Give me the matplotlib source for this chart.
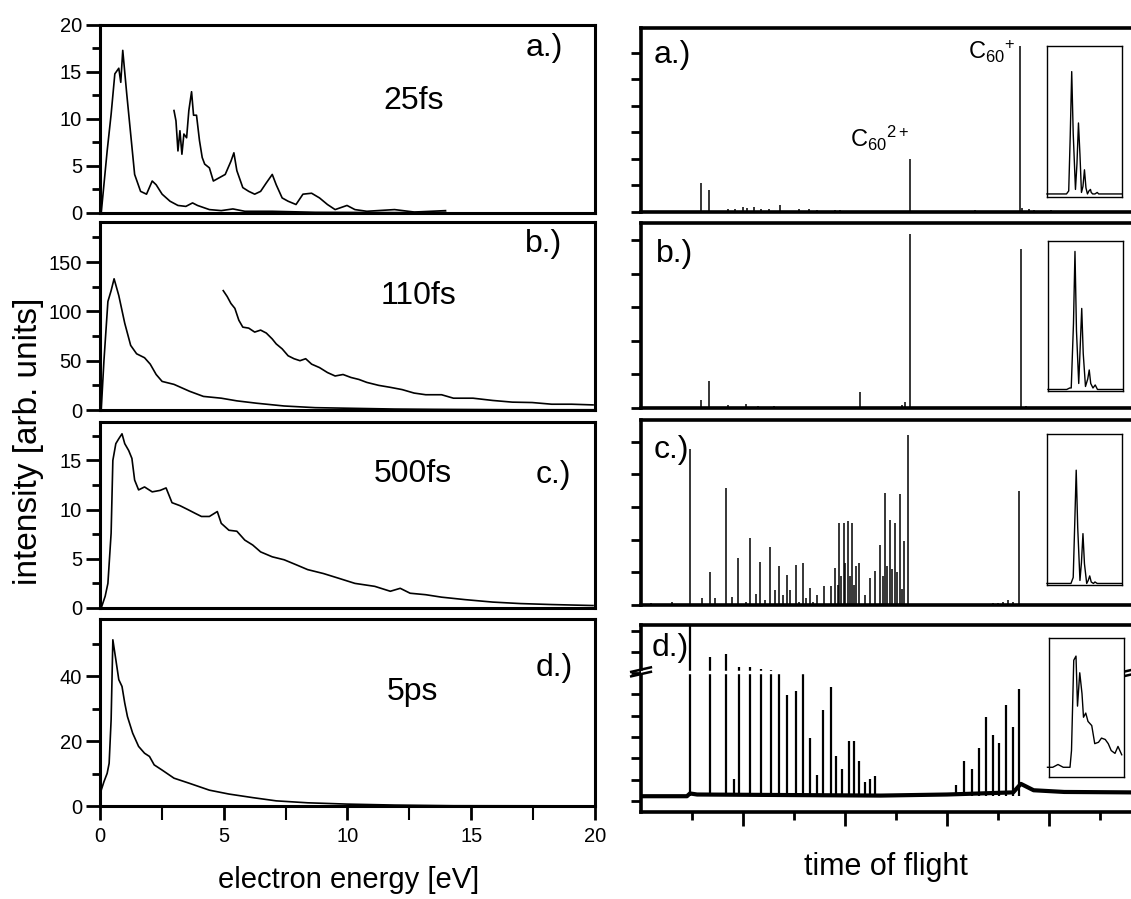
import matplotlib
matplotlib.use("Agg")
import matplotlib.pyplot as plt

plt.rcParams['font.family'] = ['Liberation Sans', 'DejaVu Sans']
plt.rcParams['mathtext.fontset'] = 'custom'
plt.rcParams['mathtext.rm'] = 'Liberation Sans'
plt.rcParams['mathtext.it'] = 'Liberation Sans:italic'

# ---------------- electron spectra (left column) ----------------
a_e = [0.05, 0.29, 0.45, 0.60, 0.76, 0.84, 0.92, 1.08, 1.24, 1.40, 1.64, 1.88, 2.11, 2.27,
       2.51, 2.83, 3.15, 3.47, 3.74, 3.94, 4.42, 4.90, 5.37, 5.85, 6.96, 8.70, 11.9, 13.96]
a_y = [0.0, 6.6, 10.5, 14.8, 15.4, 13.9, 17.3, 12.7, 8.4, 4.1, 2.3, 2.0, 3.4, 3.0,
       2.0, 1.25, 0.8, 0.7, 1.07, 0.8, 0.36, 0.25, 0.43, 0.18, 0.18, 0.07, 0.04, 0.07]
az_e = [2.99, 3.07, 3.15, 3.23, 3.31, 3.39, 3.50, 3.59, 3.70, 3.78, 3.90, 4.02, 4.13, 4.23,
        4.42, 4.58, 4.82, 5.06, 5.29, 5.41, 5.53, 5.77, 6.01, 6.25, 6.49, 6.72, 6.96, 7.12,
        7.36, 7.60, 7.92, 8.20, 8.55, 8.87, 9.19, 9.50, 9.98, 10.3, 10.78, 11.9, 12.7, 13.96]
az_y = [10.9, 9.8, 6.6, 8.75, 6.25, 8.4, 8.0, 10.9, 12.9, 10.4, 10.4, 7.7, 5.9, 5.2,
        4.8, 3.4, 3.75, 4.1, 5.5, 6.4, 4.5, 2.7, 2.3, 2.0, 2.3, 3.2, 4.1, 3.0,
        1.6, 1.25, 0.9, 2.0, 2.1, 1.6, 0.9, 0.36, 0.8, 0.36, 0.18, 0.36, 0.1, 0.25]

b_e = [0.05, 0.16, 0.32, 0.45, 0.57, 0.76, 1.0, 1.24, 1.48, 1.8, 2.03, 2.27, 2.51, 2.99,
       3.62, 4.18, 4.9, 5.53, 6.33, 7.44, 8.7, 10.3, 11.9, 13.5, 16.7, 20.0]
b_y = [0, 50, 110, 121, 133, 116, 88, 65.5, 57, 53, 46.5, 36, 29, 26,
       19, 13.8, 12, 9.3, 6.9, 4.1, 2.4, 1.7, 1.0, 0.7, 0.3, 0.3]
bz_e = [4.98, 5.14, 5.29, 5.45, 5.61, 5.77, 6.01, 6.25, 6.49, 6.72, 6.96, 7.12, 7.36, 7.60,
        7.84, 8.08, 8.31, 8.55, 8.87, 9.19, 9.50, 9.82, 10.14, 10.46, 10.78, 11.26, 11.73,
        12.21, 12.69, 13.16, 13.8, 14.28, 15.07, 15.87, 16.66, 17.46, 18.25, 19.05, 19.92]
bz_y = [121, 115, 108, 103, 91, 84, 83, 79, 81, 78, 72, 67, 62, 55,
        52, 50, 52, 46.5, 43, 38, 34.5, 36, 33, 31, 28, 25, 23,
        20.7, 17.2, 15.5, 15.5, 12, 12, 9.7, 8, 7.6, 5.9, 5.9, 5.2]

c_e = [0.05, 0.21, 0.32, 0.45, 0.52, 0.64, 0.76, 0.89, 1.0, 1.16, 1.29, 1.40, 1.56, 1.8,
       2.11, 2.43, 2.67, 2.91, 3.23, 3.55, 3.86, 4.1, 4.42, 4.74, 4.9, 5.21, 5.53, 5.85,
       6.17, 6.49, 6.96, 7.44, 7.92, 8.39, 9.03, 9.67, 10.3, 11.1, 11.73, 12.13, 12.53,
       13.16, 13.8, 14.75, 15.87, 16.98, 18.25, 19.92]
c_y = [0, 1.2, 2.5, 7.6, 15.0, 16.7, 17.2, 17.7, 16.7, 16.0, 15.2, 13.0, 12.0, 12.3,
       11.8, 11.95, 12.2, 10.7, 10.4, 10.0, 9.6, 9.3, 9.3, 9.8, 8.6, 7.9, 7.8, 6.9,
       6.4, 5.7, 5.2, 4.9, 4.4, 3.9, 3.5, 3.0, 2.5, 2.2, 1.7, 2.0, 1.5,
       1.35, 1.1, 0.85, 0.6, 0.45, 0.35, 0.25]

d_e = [0.0, 0.05, 0.16, 0.29, 0.37, 0.45, 0.52, 0.64, 0.76, 0.89, 1.0, 1.11, 1.32, 1.56,
       1.8, 2.0, 2.19, 2.51, 2.99, 3.62, 4.42, 5.21, 6.17, 7.12, 8.39, 9.98, 11.9, 14.28, 20.0]
d_y = [0, 4.9, 7.5, 10.1, 13.2, 26.6, 51.3, 45.2, 39, 36.9, 31.8, 27.6, 22.5, 18.4,
       16.3, 15.3, 12.7, 11.1, 8.6, 7.0, 4.9, 3.7, 2.6, 1.6, 1.0, 0.6, 0.3, 0.1, 0.05]

pulse_labels = ["25fs", "110fs", "500fs", "5ps"]
panel_tags = ["a.)", "b.)", "c.)", "d.)"]

# ---------------- time of flight (right column) ----------------
ta_pos = [7.43, 5.28, 1.18, 1.34, 1.70, 1.85, 2.00, 2.08, 2.22, 2.35, 2.50, 2.72, 3.10, 3.30,
          3.45, 3.80, 3.90, 6.55, 7.48, 7.60, 7.70, 8.05]
ta_h = [6.26, 2.00, 1.10, 0.83, 0.12, 0.10, 0.20, 0.15, 0.18, 0.10, 0.12, 0.25, 0.10, 0.12,
        0.08, 0.08, 0.08, 0.08, 0.15, 0.10, 0.08, 0.06]

tb_pos = [5.28, 7.45, 1.34, 1.18, 4.30, 5.18, 5.12, 1.70, 2.05, 2.30, 2.60, 3.10, 7.55]
tb_h = [5.18, 4.74, 0.80, 0.24, 0.47, 0.18, 0.10, 0.10, 0.13, 0.05, 0.05, 0.04, 0.05]

tc_pos = [0.96, 1.36, 1.66, 1.91, 2.14, 2.34, 2.52, 2.63, 2.71, 2.86, 2.93, 3.03, 3.17, 3.31,
          3.45, 3.58, 3.72, 3.81, 3.89, 3.98, 4.05, 4.13, 4.21, 4.28, 4.40, 4.49, 4.59, 4.69,
          4.78, 4.88, 4.98, 5.07, 5.15, 5.23, 7.41]
tc_h = [4.77, 1.00, 3.58, 1.43, 2.05, 1.32, 1.77, 0.46, 1.19, 0.92, 0.46, 1.22, 1.28, 0.52,
        0.30, 0.58, 0.58, 1.13, 2.50, 2.50, 2.57, 2.50, 1.20, 1.28, 0.30, 0.83, 1.04, 1.83,
        3.42, 2.60, 2.50, 3.39, 1.96, 5.20, 3.49]
tc_small_pos = [0.20, 0.60, 1.20, 1.46, 1.78, 2.05, 2.25, 2.43, 2.78, 3.10, 3.24, 3.38, 3.86,
                3.93, 4.01, 4.09, 4.17, 4.74, 4.83, 4.93, 5.02, 5.11, 6.90, 7.00, 7.10, 7.20, 7.30]
tc_small_h = [0.05, 0.08, 0.20, 0.20, 0.25, 0.10, 0.35, 0.15, 0.30, 0.10, 0.20, 0.10, 0.60,
              0.90, 1.30, 0.90, 0.60, 0.90, 1.20, 1.10, 1.00, 0.50, 0.05, 0.07, 0.10, 0.15, 0.10]

td_pos = [0.96, 1.35, 1.67, 1.82, 1.92, 2.14, 2.35, 2.54, 2.71, 2.87, 3.03, 3.18, 3.31, 3.45,
          3.57, 3.72, 3.83, 3.95, 4.07, 4.17, 4.28, 4.39, 4.49, 4.58, 6.18, 6.34, 6.49, 6.62,
          6.76, 6.90, 7.03, 7.16, 7.29, 7.41]
td_h = [8.30, 6.77, 6.89, 1.02, 6.27, 6.27, 6.18, 6.15, 5.99, 4.98, 5.18, 5.99, 2.97, 1.22,
        4.27, 5.34, 2.13, 1.50, 2.79, 2.79, 1.89, 0.91, 1.02, 1.17, 0.75, 1.89, 1.50, 2.47,
        3.93, 3.08, 2.74, 4.51, 3.49, 5.24]
td_base_x = [0.0, 0.9, 0.96, 1.1, 4.7, 6.0, 7.3, 7.45, 7.7, 8.3, 9.6]
td_base_y = [0.22, 0.22, 0.35, 0.30, 0.25, 0.30, 0.40, 0.80, 0.50, 0.42, 0.40]
td_break = 6.06

# insets: C60+ isotope pattern, normalised to the inset box
ins_a_x = [0.00, 0.26, 0.29, 0.31, 0.33, 0.35, 0.38, 0.40, 0.42, 0.44, 0.46, 0.48, 0.50, 0.52,
           0.54, 0.56, 0.58, 0.59, 0.61, 0.64, 0.67, 0.69, 0.72, 1.00]
ins_a_y = [0.02, 0.02, 0.04, 0.40, 0.83, 0.42, 0.05, 0.22, 0.49, 0.28, 0.03, 0.07, 0.18, 0.06,
           0.02, 0.04, 0.05, 0.03, 0.02, 0.02, 0.03, 0.02, 0.02, 0.02]
ins_b_x = [0.00, 0.25, 0.29, 0.31, 0.34, 0.36, 0.38, 0.41, 0.43, 0.45, 0.47, 0.50, 0.53, 0.55,
           0.57, 0.60, 0.63, 0.66, 0.70, 1.00]
ins_b_y = [0.01, 0.01, 0.02, 0.02, 0.45, 0.93, 0.40, 0.05, 0.30, 0.55, 0.25, 0.03, 0.08, 0.14,
           0.05, 0.02, 0.04, 0.01, 0.01, 0.01]
ins_c_x = [0.00, 0.32, 0.35, 0.37, 0.39, 0.41, 0.44, 0.46, 0.48, 0.50, 0.53, 0.55, 0.57, 0.59,
           0.62, 0.64, 0.67, 1.00]
ins_c_y = [0.01, 0.01, 0.05, 0.40, 0.76, 0.38, 0.03, 0.15, 0.34, 0.14, 0.01, 0.03, 0.06, 0.02,
           0.01, 0.02, 0.01, 0.01]
ins_d_x = [-0.02, 0.05, 0.12, 0.19, 0.28, 0.30, 0.33, 0.36, 0.38, 0.41, 0.44, 0.46, 0.49, 0.52,
           0.57, 0.61, 0.66, 0.70, 0.75, 0.79, 0.83, 0.88, 0.92, 0.97]
ins_d_y = [0.07, 0.07, 0.09, 0.07, 0.07, 0.19, 0.84, 0.87, 0.51, 0.75, 0.60, 0.43, 0.46, 0.40,
           0.37, 0.24, 0.25, 0.28, 0.27, 0.24, 0.19, 0.17, 0.22, 0.16]

# ---------------------------------------------------------------
fig = plt.figure(figsize=(11.31, 8.99), dpi=100)

left_rects = [[0.0884, 0.7631, 0.4377, 0.2091],
              [0.0884, 0.5439, 0.4377, 0.2091],
              [0.0884, 0.3237, 0.4377, 0.2069],
              [0.0884, 0.1034, 0.4377, 0.2080]]
left_ylims = [20, 190.5, 18.9, 57.7]
left_major = [[0, 5, 10, 15, 20], [0, 50, 100, 150], [0, 5, 10, 15], [0, 20, 40]]
left_minor = [[2.5, 7.5, 12.5, 17.5], [25, 75, 125, 175], [2.5, 7.5, 12.5, 17.5], [10, 30, 50]]
left_curves = [[(a_e, a_y), (az_e, az_y)], [(b_e, b_y), (bz_e, bz_y)],
               [(c_e, c_y)], [(d_e, d_y)]]
tag_pos = [(0.897, 0.879), (0.897, 0.882), (0.915, 0.717), (0.917, 0.74)]
lbl_pos = [(0.634, 0.595), (0.644, 0.604), (0.632, 0.723), (0.632, 0.61)]

for i in range(4):
    ax = fig.add_axes(left_rects[i])
    for xs, ys in left_curves[i]:
        ax.plot(xs, ys, color='black', lw=1.2)
    ax.set_xlim(0, 20)
    ax.set_ylim(0, left_ylims[i])
    ax.set_yticks(left_major[i])
    ax.set_yticks(left_minor[i], minor=True)
    ax.tick_params(axis='y', which='major', direction='out', length=10, width=2, labelsize=14.5, pad=3)
    ax.tick_params(axis='y', which='minor', direction='out', length=6, width=2)
    for s in ax.spines.values():
        s.set_linewidth(2.2)
    if i < 3:
        ax.set_xticks([])
    else:
        ax.set_xticks([0, 5, 10, 15, 20])
        ax.set_xticks([2.5, 7.5, 12.5, 17.5], minor=True)
        ax.tick_params(axis='x', which='major', direction='out', length=10, width=2, labelsize=14.5, pad=5)
        ax.tick_params(axis='x', which='minor', direction='out', length=10, width=1.5)
    ax.text(*tag_pos[i], panel_tags[i], transform=ax.transAxes, ha='center', va='center', fontsize=23)
    ax.text(*lbl_pos[i], pulse_labels[i], transform=ax.transAxes, ha='center', va='center', fontsize=23)

fig.text(0.0248, 0.5095, "intensity [arb. units]", rotation=90, ha='center', va='center', fontsize=24)
fig.text(0.3086, 0.0211, "electron energy [eV]", ha='center', va='center', fontsize=21)

# right column
right_rects = [[0.5668, 0.7642, 0.435, 0.2047],
               [0.5668, 0.5462, 0.435, 0.2058],
               [0.5668, 0.3270, 0.435, 0.2058],
               [0.5668, 0.0968, 0.435, 0.2080]]
right_ylims = [(0, 6.94), (0, 5.52), (0, 5.66), (-0.52, 8.26)]
right_yticks = [range(0, 7), range(0, 6), range(0, 6), range(0, 9)]
right_peaks = [[(ta_pos, ta_h)], [(tb_pos, tb_h)], [(tc_pos, tc_h), (tc_small_pos, tc_small_h)],
               [(td_pos, td_h)]]
rtag_pos = [(0.063, 0.853), (0.069, 0.832), (0.061, 0.838), (0.059, 0.877)]
inset_rects = [[0.9257, 0.7809, 0.0663, 0.1680],
               [0.9266, 0.5651, 0.0663, 0.1669],
               [0.9257, 0.3493, 0.0663, 0.1680],
               [0.9275, 0.1357, 0.0663, 0.1546]]
insets = [(ins_a_x, ins_a_y), (ins_b_x, ins_b_y), (ins_c_x, ins_c_y), (ins_d_x, ins_d_y)]

for i in range(4):
    ax = fig.add_axes(right_rects[i])
    ax.set_xlim(0, 9.65)
    ax.set_ylim(*right_ylims[i])
    if i < 3:
        for pos, h in right_peaks[i]:
            ax.vlines(pos, 0, h, color='black', lw=1.1)
    else:
        ax.plot(td_base_x, td_base_y, color='black', lw=3)
        ax.vlines(td_pos, 0.25, td_h, color='black', lw=1.6)
        ax.axhline(td_break, color='white', lw=2.5, zorder=5)
        yb = (td_break - right_ylims[3][0]) / (right_ylims[3][1] - right_ylims[3][0])
        for x0 in (0.0, 1.0):
            for dy in (-0.012, 0.012):
                ax.plot([x0 - 0.02, x0 + 0.02], [yb + dy - 0.012, yb + dy + 0.012],
                        transform=ax.transAxes, color='black', lw=1.8, clip_on=False, zorder=6)
    ax.set_yticks(list(right_yticks[i]))
    ax.set_yticklabels([])
    ax.tick_params(axis='y', direction='out', length=7, width=2)
    for s in ax.spines.values():
        s.set_linewidth(2.6)
    if i < 3:
        ax.set_xticks([])
    else:
        ax.set_xticks([2, 4, 6, 8])
        ax.set_xticks([1, 3, 5, 7, 9], minor=True)
        ax.set_xticklabels([])
        ax.tick_params(axis='x', which='major', direction='out', length=10, width=2)
        ax.tick_params(axis='x', which='minor', direction='out', length=6, width=2)
    ax.text(*rtag_pos[i], panel_tags[i], transform=ax.transAxes, ha='center', va='center', fontsize=23)
    if i == 0:
        ax.text(6.41, 6.04, r"C$_{60}$$^{+}$", ha='left', va='center', fontsize=17)
        ax.text(4.10, 2.79, r"C$_{60}$$^{2+}$", ha='left', va='center', fontsize=17)

    iax = fig.add_axes(inset_rects[i])
    iax.plot(*insets[i], color='black', lw=1.0, clip_on=False)
    iax.set_xlim(0, 1)
    iax.set_ylim(0, 1)
    iax.set_xticks([])
    iax.set_yticks([])
    for s in iax.spines.values():
        s.set_linewidth(1.0)

fig.text(0.7834, 0.0356, "time of flight", ha='center', va='center', fontsize=22)

fig.savefig("out.png", dpi=100)
